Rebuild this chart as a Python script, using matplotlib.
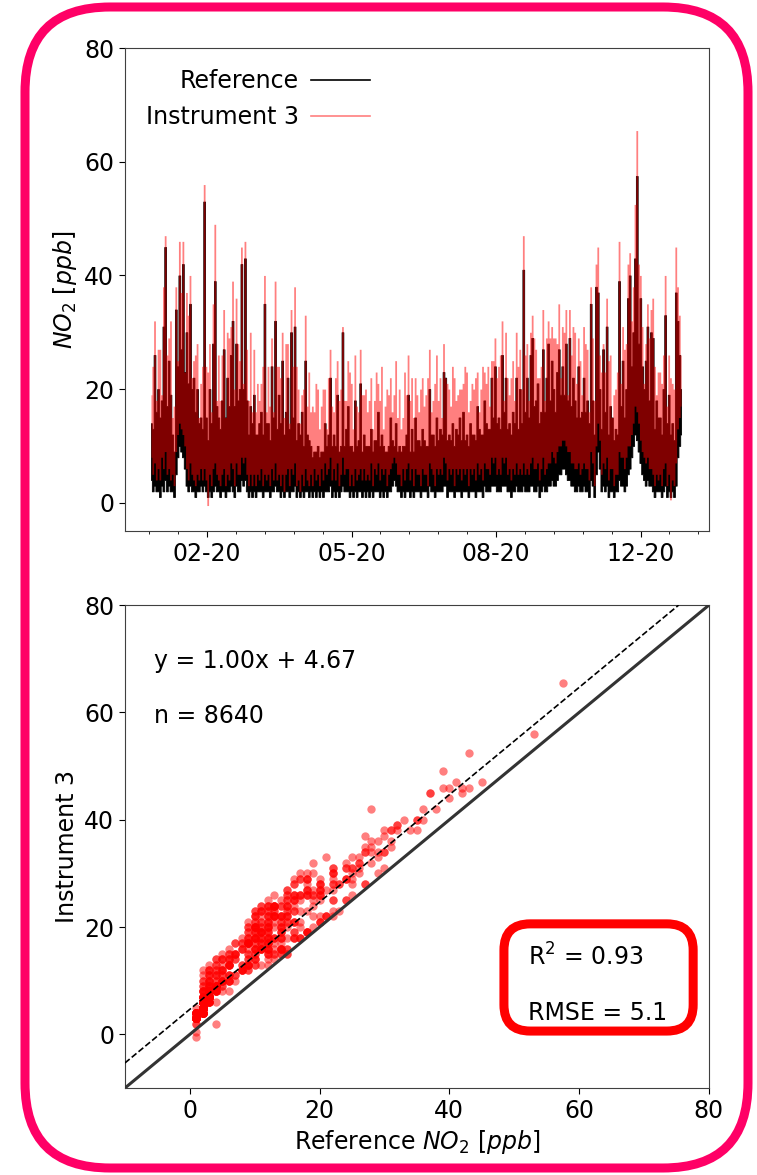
import numpy as np
import matplotlib
matplotlib.use('Agg')
import matplotlib.pyplot as plt
from matplotlib.lines import Line2D
from matplotlib.patches import FancyBboxPatch
from matplotlib.transforms import IdentityTransform

plt.rcParams['font.family'] = ['DejaVu Sans']
plt.rcParams['font.size'] = 17

# NO2 [ppb], read off the time series as a low/high range per column
# (the hourly lines are too dense to read one by one), one row per block
ref_hi = [
    14, 13, 26, 16, 20, 15, 18, 31, 45, 17, 25, 19, 12, 9, 34, 24, 40, 27, 42, 23, 30, 21, 35, 20, 22, 16, 20, 14, 15, 13,
    53, 15, 11, 20, 14, 28, 39, 17, 15, 13, 18, 27, 15, 22, 17, 26, 32, 17, 28, 18, 20, 42, 20, 43, 18, 12, 17, 14, 19, 12,
    12, 14, 16, 12, 35, 14, 14, 11, 24, 15, 32, 13, 19, 14, 25, 12, 16, 22, 13, 30, 15, 31, 11, 14, 12, 16, 10, 25, 12, 11,
    10, 8, 9, 9, 10, 8, 9, 9, 14, 10, 12, 22, 10, 12, 10, 19, 9, 10, 30, 10, 13, 17, 10, 10, 9, 18, 10, 11, 21, 9,
    12, 10, 10, 10, 13, 9, 11, 11, 16, 10, 12, 10, 9, 9, 10, 15, 11, 10, 14, 9, 10, 9, 10, 10, 12, 19, 9, 13, 9, 15,
    11, 11, 10, 13, 11, 10, 10, 20, 12, 12, 10, 15, 11, 13, 12, 23, 22, 11, 12, 11, 14, 10, 13, 12, 15, 11, 16, 11, 12, 10,
    14, 12, 12, 11, 17, 13, 12, 12, 18, 14, 13, 13, 22, 15, 24, 14, 15, 13, 26, 16, 22, 13, 14, 12, 16, 14, 22, 13, 20, 14,
    41, 16, 22, 15, 26, 29, 17, 18, 21, 14, 16, 27, 16, 22, 28, 18, 25, 20, 16, 23, 27, 19, 24, 19, 28, 18, 29, 17, 22, 18,
    15, 24, 15, 16, 22, 16, 18, 14, 35, 18, 12, 38, 37, 20, 13, 27, 16, 31, 12, 17, 15, 11, 13, 12, 39, 17, 25, 15, 20, 36,
    40, 24, 30, 43, 57.5, 28, 36, 24, 20, 25, 31, 18, 30, 29, 13, 18, 15, 15, 12, 20, 33, 14, 19, 12, 14, 11, 37, 32, 26, 20,
]
ins_hi = [
    19, 24, 32, 18, 27, 27, 19, 38, 47, 26, 29, 32, 15, 17, 38, 25, 46, 37, 46, 23, 37, 33, 40, 22, 25, 26, 28, 15, 21, 24,
    56, 24, 23, 28, 16, 35, 49, 18, 26, 18, 26, 34, 15, 30, 29, 31, 39, 20, 36, 28, 25, 45, 21, 46, 27, 18, 30, 16, 27, 16,
    21, 18, 21, 24, 40, 16, 24, 17, 29, 16, 39, 24, 24, 22, 30, 15, 28, 28, 14, 34, 24, 38, 24, 20, 14, 19, 20, 33, 17, 23,
    16, 17, 16, 21, 20, 13, 17, 20, 20, 13, 22, 27, 17, 16, 22, 25, 18, 20, 31, 18, 18, 25, 23, 21, 13, 26, 17, 16, 27, 19,
    19, 20, 16, 18, 22, 13, 18, 23, 21, 18, 24, 13, 17, 20, 19, 22, 16, 19, 25, 15, 20, 13, 15, 23, 19, 26, 18, 22, 15, 22,
    19, 16, 20, 22, 17, 19, 22, 27, 16, 18, 21, 26, 18, 22, 15, 28, 22, 21, 20, 17, 24, 22, 18, 19, 20, 20, 21, 24, 23, 16,
    18, 21, 20, 22, 23, 16, 20, 24, 23, 21, 24, 17, 25, 25, 29, 22, 24, 26, 32, 18, 30, 22, 19, 22, 25, 18, 30, 24, 27, 20,
    47, 26, 28, 18, 30, 33, 29, 27, 22, 22, 24, 34, 18, 29, 32, 29, 31, 29, 29, 28, 35, 22, 31, 30, 34, 19, 34, 26, 31, 30,
    21, 29, 25, 19, 31, 28, 27, 16, 38, 29, 18, 42, 45, 26, 23, 28, 23, 36, 25, 26, 15, 19, 20, 23, 46, 21, 31, 27, 28, 42,
    44, 32, 38, 52.5, 65.5, 42, 40, 31, 21, 28, 35, 29, 34, 36, 24, 19, 23, 23, 21, 26, 40, 17, 26, 22, 21, 20, 45, 38, 33, 26,
]
ref_lo = [
    4, 2, 3, 2, 2, 1, 3, 2, 4, 2, 3, 2, 2, 1, 5, 8, 10, 9, 8, 6, 3, 2, 3, 2, 2, 1, 2, 2, 3, 2,
    3, 2, 1, 2, 1, 2, 3, 2, 2, 1, 2, 2, 1, 2, 2, 3, 2, 1, 3, 2, 2, 4, 3, 4, 2, 1, 2, 1, 2, 1,
    2, 2, 2, 1, 2, 2, 2, 1, 2, 2, 3, 2, 2, 1, 2, 1, 2, 2, 1, 2, 2, 3, 1, 2, 1, 2, 1, 2, 2, 1,
    2, 1, 2, 1, 2, 1, 2, 1, 2, 2, 2, 3, 1, 2, 1, 2, 1, 2, 3, 2, 2, 2, 1, 2, 1, 2, 1, 2, 2, 1,
    2, 1, 2, 1, 2, 1, 2, 2, 2, 1, 2, 1, 2, 1, 2, 2, 3, 4, 3, 2, 2, 1, 2, 1, 2, 2, 1, 2, 1, 2,
    2, 2, 1, 2, 2, 2, 1, 3, 2, 2, 1, 2, 2, 2, 2, 3, 3, 1, 2, 2, 2, 1, 2, 2, 2, 1, 2, 2, 2, 1,
    2, 2, 2, 1, 2, 2, 2, 1, 3, 2, 2, 2, 3, 3, 3, 2, 2, 2, 3, 3, 3, 2, 2, 1, 2, 2, 3, 2, 2, 2,
    3, 2, 2, 2, 3, 3, 2, 2, 3, 1, 2, 3, 2, 2, 3, 3, 4, 3, 3, 4, 5, 5, 6, 6, 5, 4, 4, 3, 3, 2,
    2, 3, 2, 2, 3, 2, 2, 1, 4, 3, 1, 5, 9, 6, 2, 3, 2, 3, 1, 2, 2, 1, 2, 2, 4, 3, 3, 2, 3, 5,
    6, 8, 10, 12, 11, 9, 7, 5, 4, 3, 4, 3, 3, 2, 1, 2, 2, 2, 1, 2, 3, 1, 2, 1, 2, 1, 3, 8, 10, 12,
]
ins_lo = [
    8, 5, 7, 4, 6, 4, 8, 6, 9, 5, 6, 4, 5, 3, 9, 12, 14, 13, 12, 10, 6, 4, 7, 5, 4, 3, 5, 4, 6, 4,
    6, 4, -0.5, 5, 3, 6, 7, 5, 4, 3, 5, 6, 3, 5, 4, 7, 6, 3, 7, 5, 5, 8, 7, 8, 5, 3, 5, 3, 5, 3,
    5, 4, 6, 3, 5, 4, 5, 3, 6, 4, 7, 4, 5, 3, 5, 2, 5, 6, 3, 6, 5, 7, 3, 4, 2, 5, 3, 6, 4, 3,
    5, 3, 6, 4, 5, 3, 6, 4, 7, 5, 6, 8, 4, 6, 4, 7, 3, 5, 8, 5, 6, 6, 3, 5, 3, 6, 4, 5, 6, 4,
    6, 4, 5, 4, 7, 3, 6, 5, 7, 4, 6, 5, 6, 3, 5, 6, 7, 8, 7, 5, 5, 3, 6, 4, 6, 7, 4, 6, 3, 6,
    5, 5, 3, 6, 5, 5, 3, 7, 6, 5, 3, 6, 5, 6, 5, 8, 7, 4, 6, 5, 6, 3, 6, 5, 6, 4, 6, 5, 6, 3,
    6, 5, 6, 4, 7, 5, 6, 4, 7, 6, 6, 5, 8, 7, 8, 5, 6, 5, 8, 7, 8, 5, 6, 4, 6, 5, 7, 5, 6, 5,
    7, 5, 6, 5, 7, 8, 6, 6, 7, 4, 6, 8, 5, 6, 7, 7, 9, 8, 7, 9, 10, 10, 11, 11, 10, 9, 9, 7, 7, 6,
    6, 7, 5, 6, 7, 6, 6, 4, 9, 7, 3, 10, 14, 11, 5, 7, 6, 8, 4, 6, 6, 3, 5, 5, 9, 8, 8, 6, 8, 10,
    10, 12, 14, 17, 16, 14, 11, 9, 8, 7, 8, 6, 6, 5, 3, 5, 4, 5, 3, 6, 7, 3, 5, 0.5, 4, 3, 7, 13, 15, 17,
]
# extra hourly pairs from inside the band, every other column
ref_mid = [
    5, 9, 3, 12, 7, 2, 15, 6, 11, 18, 9, 4, 13, 6, 3,
    4, 8, 2, 13, 6, 10, 3, 17, 7, 5, 21, 9, 2, 6, 4,
    3, 7, 11, 2, 5, 14, 4, 9, 4, 16, 6, 3, 8, 5, 2,
    2, 5, 3, 7, 2, 4, 9, 3, 6, 2, 5, 12, 3, 4, 2,
    3, 6, 2, 8, 4, 2, 5, 10, 3, 6, 2, 7, 4, 11, 3,
    2, 6, 4, 9, 3, 7, 2, 5, 12, 3, 8, 4, 2, 6, 10,
    4, 8, 3, 11, 6, 2, 9, 14, 5, 3, 7, 12, 4, 16, 6,
    9, 4, 14, 7, 19, 3, 11, 6, 16, 8, 22, 5, 13, 10, 18,
    6, 13, 3, 9, 20, 5, 15, 2, 8, 24, 4, 11, 7, 17, 29,
    18, 25, 12, 7, 14, 4, 9, 21, 3, 6, 2, 11, 5, 16, 27,
]
ins_mid = [
    15, 12, 13, 13, 17, 10, 16, 16, 13, 19, 12, 14, 15, 8, 10,
    9, 18, 7, 15, 14, 14, 12, 18, 17, 8, 22, 19, 11, 13, 6,
    12, 10, 18, 8, 13, 16, 11, 17, 2, 23, 15, 9, 12, 14, 7,
    9, 11, 6, 14, 12, 8, 17, 10, 10, 7, 14, 16, 9, 13, 4,
    10, 13, 8, 12, 14, 6, 12, 18, 9, 14, 10, 11, 13, 16, 7,
    8, 15, 9, 13, 11, 15, 7, 12, 17, 10, 16, 12, 5, 14, 18,
    11, 16, 9, 19, 10, 8, 17, 22, 12, 11, 15, 18, 10, 25, 13,
    17, 10, 15, 15, 20, 11, 19, 13, 26, 17, 23, 11, 21, 16, 19,
    13, 23, 9, 18, 21, 14, 22, 8, 16, 25, 12, 19, 14, 18, 30,
    26, 26, 20, 15, 19, 11, 17, 22, 12, 13, 9, 21, 12, 25, 28,
]

date_labels = ['02-20', '05-20', '08-20', '12-20']

fit_slope = 1.00
fit_intercept = 4.67
n_points = 8640
r2 = 0.93
rmse = 5.1

ref_hi = np.array(ref_hi)
ins_hi = np.array(ins_hi)
ref_lo = np.array(ref_lo)
ins_lo = np.array(ins_lo)
t = np.arange(len(ref_hi))

fig = plt.figure(figsize=(7.57, 11.75), dpi=100)
ax1 = fig.add_axes([0.165, 0.548, 0.7715, 0.411])
ax2 = fig.add_axes([0.165, 0.074, 0.7715, 0.411])

# time series: range of each column, reference under the instrument
ax1.fill_between(t, ref_lo, ref_hi, step='mid', color='black', lw=0.6)
ax1.fill_between(t, ins_lo, ins_hi, step='mid', color='red', alpha=0.5, lw=0)
ax1.set_xlim(-14.7, 314.7)
ax1.set_ylim(-5, 80)
ax1.set_yticks([0, 20, 40, 60, 80])
minor = np.arange(20) * 16.3 - 0.96
ax1.set_xticks(minor, minor=True)
ax1.set_xticks(minor[[2, 7, 12, 17]])
ax1.set_xticklabels(date_labels)
ax1.tick_params(which='major', length=4.2)
ax1.tick_params(which='minor', length=2.4)
ax1.set_ylabel(r'$NO_2$ [$ppb$]')
handles = [Line2D([], [], color='black', lw=1.2),
           Line2D([], [], color='red', alpha=0.5, lw=1.2)]
ax1.legend(handles, ['Reference', 'Instrument 3'], loc='upper left',
           frameon=False, markerfirst=False, handlelength=2.5, handletextpad=0.5)

# scatter of the paired values
sx = np.concatenate([ref_lo, ref_mid, ref_hi])
sy = np.concatenate([ins_lo, ins_mid, ins_hi])
ax2.scatter(sx, sy, s=36, color='red', alpha=0.5, linewidths=0, zorder=1)
ax2.axline((0, 0), slope=1, color='0.2', lw=2.2, zorder=3)
ax2.axline((0, fit_intercept), slope=fit_slope, color='black', ls='--', lw=1.2, zorder=3)
ax2.set_xlim(-10, 80)
ax2.set_ylim(-10, 80)
ax2.set_xticks([0, 20, 40, 60, 80])
ax2.set_yticks([0, 20, 40, 60, 80])
ax2.tick_params(length=4.2)
ax2.set_xlabel(r'Reference $NO_2$ [$ppb$]')
ax2.set_ylabel('Instrument 3')
ax2.text(0.05, 0.885, f'y = {fit_slope:.2f}x + {fit_intercept:.2f}',
         transform=ax2.transAxes, va='center')
ax2.text(0.05, 0.77, f'n = {n_points}', transform=ax2.transAxes, va='center')

# red rounded box with the scores
box = FancyBboxPatch((0.649, 0.118), 0.324, 0.222,
                     boxstyle='round,pad=0,rounding_size=0.045',
                     mutation_aspect=584 / 483, transform=ax2.transAxes,
                     fc='white', ec='red', lw=6.5, zorder=4)
ax2.add_patch(box)
ax2.text(0.69, 0.271, f'R$^2$ = {r2:.2f}', transform=ax2.transAxes,
         va='center', zorder=5)
ax2.text(0.69, 0.155, f'RMSE = {rmse:.1f}', transform=ax2.transAxes,
         va='center', zorder=5)

for ax in (ax1, ax2):
    for s in ax.spines.values():
        s.set_color('0.25')

# rounded pink frame around the whole figure
frame = FancyBboxPatch((25, 7), 723, 1161, boxstyle='round,pad=0,rounding_size=85',
                       transform=IdentityTransform(), fill=False,
                       ec='#ff0066', lw=6.5)
fig.add_artist(frame)

fig.savefig('out.png', dpi=100)
